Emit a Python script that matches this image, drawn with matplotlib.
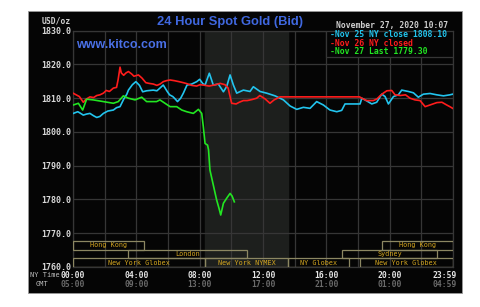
import matplotlib
matplotlib.use("Agg")
import matplotlib.pyplot as plt
from matplotlib.patches import Rectangle
from matplotlib.transforms import blended_transform_factory

# hours since 00:00 NY time, USD/oz
nov25_t = [0.02, 0.3, 0.45, 0.65, 0.85, 1.07, 1.3, 1.5, 1.7, 1.92, 2.2, 2.55, 2.75, 2.97,
           3.2, 3.4, 3.5, 3.75, 3.97, 4.2, 4.4, 4.65, 5.07, 5.3, 5.49, 5.7, 5.95, 6.1, 6.3,
           6.45, 6.6, 6.8, 6.97, 7.2, 7.5, 7.81, 8.0, 8.2, 8.34, 8.61, 8.86, 9.18, 9.5,
           9.71, 9.92, 10.13, 10.34, 10.76, 11.18, 11.39, 11.81, 12.23, 12.76, 13.29,
           13.71, 14.13, 14.55, 14.97, 15.39, 15.81, 16.23, 16.66, 16.97, 17.18, 18.13,
           18.24, 18.55, 18.87, 19.18, 19.5, 19.71, 19.92, 20.24, 20.55, 20.76, 21.18,
           21.5, 21.81, 22.13, 22.55, 22.98, 23.4, 23.8, 23.98]
nov25_v = [1805.5, 1806.0, 1805.6, 1805.0, 1805.3, 1805.5, 1804.8, 1804.3, 1804.6, 1805.5,
           1806.2, 1806.5, 1807.2, 1807.5, 1809.7, 1811.2, 1812.4, 1814.0, 1814.9, 1813.8,
           1811.9, 1812.2, 1812.4, 1812.2, 1813.0, 1813.9, 1812.0, 1811.0, 1810.5, 1809.8,
           1809.0, 1810.0, 1811.5, 1813.9, 1814.2, 1814.9, 1815.6, 1814.3, 1813.9, 1817.4,
           1813.9, 1814.2, 1811.9, 1813.5, 1816.9, 1813.9, 1811.5, 1812.4, 1812.0, 1813.4,
           1812.0, 1811.5, 1810.7, 1809.5, 1807.7, 1806.7, 1807.3, 1807.0, 1809.0, 1808.0,
           1806.5, 1806.0, 1806.4, 1808.3, 1808.3, 1810.0, 1809.2, 1808.3, 1808.8, 1811.2,
           1810.5, 1808.3, 1810.5, 1811.0, 1812.4, 1812.0, 1811.6, 1810.3, 1811.2, 1811.4,
           1811.0, 1810.7, 1811.0, 1811.2]

nov26_t = [0.0, 0.2, 0.4, 0.55, 0.65, 0.8, 1.07, 1.3, 1.5, 1.7, 1.92, 2.1, 2.3, 2.55, 2.75,
           2.85, 2.97, 3.05, 3.2, 3.35, 3.5, 3.7, 3.85, 4.13, 4.35, 4.6, 4.8, 5.07, 5.3, 5.5,
           5.7, 5.9, 6.13, 6.4, 6.7, 6.97, 7.2, 7.5, 7.81, 8.02, 8.23, 8.6, 9.0, 9.29, 9.6,
           9.8, 9.87, 10.02, 10.3, 10.5, 10.76, 11.0, 11.3, 11.6, 11.8, 12.0, 12.13, 12.44,
           12.7, 13.08, 18.1, 18.24, 18.55, 18.97, 19.2, 19.39, 19.6, 19.82, 20.13, 20.34,
           20.66, 21.0, 21.29, 21.6, 21.92, 22.24, 22.55, 22.98, 23.3, 23.6, 23.8, 23.98]
nov26_v = [1811.5, 1811.0, 1810.5, 1809.5, 1808.8, 1809.6, 1810.4, 1810.2, 1810.8, 1811.0,
           1811.5, 1812.3, 1812.0, 1813.0, 1813.2, 1815.5, 1819.2, 1817.5, 1816.8, 1817.5,
           1817.9, 1817.2, 1816.5, 1816.9, 1816.0, 1814.6, 1814.4, 1814.2, 1813.8, 1814.2,
           1814.9, 1815.2, 1815.4, 1815.2, 1814.9, 1814.6, 1814.3, 1813.8, 1813.6, 1814.0,
           1813.9, 1813.6, 1814.0, 1814.4, 1814.0, 1813.0, 1811.5, 1808.5, 1808.3, 1808.8,
           1809.3, 1809.3, 1809.6, 1810.0, 1810.8, 1810.2, 1809.8, 1808.5, 1809.5, 1810.4,
           1810.4, 1810.0, 1809.3, 1809.3, 1809.8, 1810.7, 1811.5, 1812.2, 1812.3, 1811.0,
           1810.8, 1811.0, 1810.0, 1809.5, 1809.3, 1807.5, 1808.0, 1808.7, 1808.8, 1808.0,
           1807.5, 1807.0]

nov27_t = [0.02, 0.34, 0.61, 0.86, 1.28, 1.92, 2.55, 2.86, 3.18, 3.5, 3.92, 4.34, 4.65,
           5.28, 5.49, 5.81, 6.13, 6.55, 6.87, 7.18, 7.6, 7.92, 8.13, 8.23, 8.34, 8.5, 8.56,
           8.65, 8.86, 9.07, 9.22, 9.33, 9.5, 9.71, 9.92, 10.05, 10.19]
nov27_v = [1808.0, 1808.5, 1806.5, 1809.7, 1809.5, 1809.0, 1808.5, 1809.0, 1810.7, 1810.0,
           1809.5, 1810.3, 1809.0, 1809.0, 1809.5, 1808.5, 1807.5, 1807.5, 1806.5, 1806.0,
           1805.5, 1806.7, 1805.5, 1801.6, 1796.6, 1796.1, 1794.7, 1788.7, 1784.3, 1779.9,
           1777.4, 1775.4, 1778.9, 1780.4, 1781.8, 1781.0, 1779.3]

legend_labels = ["-Nov 25 NY close 1808.10", "-Nov 26 NY closed", "-Nov 27 Last 1779.30"]

y_ticks = [1760, 1770, 1780, 1790, 1800, 1810, 1820, 1830]
ny_ticks = [0, 4, 8, 12, 16, 20, 23.5]
ny_labels = ["00:00", "04:00", "08:00", "12:00", "16:00", "20:00", "23:59"]
gmt_labels = ["05:00", "09:00", "13:00", "17:00", "21:00", "01:00", "04:59"]

# trading sessions: name, start hour, end hour, row (0 = bottom)
sess_names = ["Hong Kong", "Hong Kong", "London", "Sydney", "New York Globex",
              "New York NYMEX", "NY Globex", "New York Globex"]
sess_start = [0, 19.5, 3.5, 17.0, 0, 8.33, 13.58, 18.1]
sess_end = [4.5, 24, 11.0, 23.0, 8.33, 13.58, 17.45, 24]
sess_row = [2, 2, 1, 1, 0, 0, 0, 0]

shade_start, shade_end = 8.33, 13.6

c_cyan = "#22c4ee"
c_red = "#ff1c1c"
c_green = "#22e622"
grid_c = "#363636"
mono = "DejaVu Sans Mono"

fig = plt.figure(figsize=(4.8, 3.07), dpi=100)
fig.patch.set_facecolor("white")
fig.patches.append(Rectangle((28 / 480, 1 - 293 / 307), 434 / 480, 282 / 307,
                             transform=fig.transFigure, facecolor="#050505",
                             edgecolor="#9a9a9a", lw=0.6, zorder=-5))

ax = fig.add_axes([73 / 480, 1 - 267 / 307, 380 / 480, 236.3 / 307])
ax.set_zorder(2)
ax.set_facecolor("#050505")
ax.set_xlim(0, 24)
ax.set_ylim(1760, 1830)

ax.axvspan(shade_start, shade_end, color="#1d1f1d", zorder=0)
ax.set_xticks(range(0, 25, 2))
ax.set_yticks(y_ticks)
ax.grid(True, color=grid_c, lw=0.9, zorder=1)
ax.set_axisbelow(True)
ax.tick_params(length=0, labelbottom=False)
ax.set_yticklabels(["%.1f" % v for v in y_ticks], fontfamily=mono, fontsize=6,
                   fontweight="bold", color="#d8d8d8")
ax.tick_params(axis="y", pad=1.5)
for s in ax.spines.values():
    s.set_color(grid_c)
    s.set_linewidth(0.9)

ax.plot(nov25_t, nov25_v, color=c_cyan, lw=1.2, zorder=3)
ax.plot(nov26_t, nov26_v, color=c_red, lw=1.2, zorder=4)
ax.plot(nov27_t, nov27_v, color=c_green, lw=1.2, zorder=5)

tr = blended_transform_factory(ax.transData, ax.transAxes)

# legend box
ax.add_patch(Rectangle((16, 0.8875), 8, 0.1125, transform=tr, facecolor="#050505",
                       edgecolor=grid_c, lw=0.9, zorder=6))
for i, (lab, col) in enumerate(zip(legend_labels, [c_cyan, c_red, c_green])):
    ax.text(16.25, 0.982 - i * 0.036, lab, transform=tr, color=col, fontfamily=mono,
            fontsize=5.9, fontweight="bold", va="center", ha="left", zorder=7)

# session bars
rh = 0.0368
for name, a, b, r in zip(sess_names, sess_start, sess_end, sess_row):
    ax.add_patch(Rectangle((a, r * rh), b - a, rh, transform=tr, facecolor="none",
                           edgecolor="#8c8762", lw=0.9, zorder=6))
    ax.text((a + b) / 2, r * rh + rh / 2, name, transform=tr, color="#d6a820",
            fontfamily=mono, fontsize=4.9, ha="center", va="center", zorder=7)

# x labels: NY time and GMT
for t, l1, l2 in zip(ny_ticks, ny_labels, gmt_labels):
    ax.text(t, -0.034, l1, transform=tr, ha="center", va="center", fontfamily=mono,
            fontsize=5.8, fontweight="bold", color="#e6e6e6", clip_on=False)
    ax.text(t, -0.074, l2, transform=tr, ha="center", va="center", fontfamily=mono,
            fontsize=5.8, fontweight="bold", color="#6a6a6a", clip_on=False)
fig.text(30 / 480, 1 - 275 / 307, "NY Time", fontfamily=mono, fontsize=5, color="#bcbcbc",
         ha="left", va="center")
fig.text(42 / 480, 1 - 284.5 / 307, "GMT", fontfamily=mono, fontsize=5, color="#bcbcbc",
         ha="center", va="center")

# header texts
fig.text(230 / 480, 1 - 22.5 / 307, "24 Hour Spot Gold (Bid)", fontfamily="Liberation Sans",
         fontsize=9.3, fontweight="bold", color="#4068e0", ha="center", va="center")
ax.text(76 / 480, 1 - 45 / 307, "www.kitco.com", transform=fig.transFigure,
        fontfamily="Liberation Sans", fontsize=9.0, fontweight="bold", color="#4a70e6",
        ha="left", va="center", zorder=8)
fig.text(42 / 480, 1 - 20.5 / 307, "USD/oz", fontfamily=mono, fontsize=5.8,
         fontweight="bold", color="#cfcfcf", ha="left", va="center")
fig.text(336 / 480, 1 - 25.5 / 307, "November 27, 2020 10:07", fontfamily=mono,
         fontsize=5.8, fontweight="bold", color="#cfcfcf", ha="left", va="center")

fig.savefig("out.png", dpi=100, facecolor="white")
